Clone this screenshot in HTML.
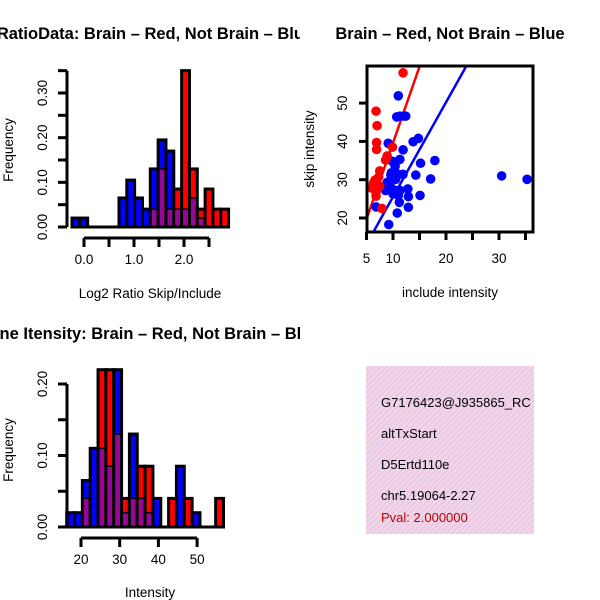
<!DOCTYPE html>
<html><head><meta charset="utf-8"><style>
html,body{margin:0;padding:0;background:#fff;}
svg{display:block;font-family:"Liberation Sans",sans-serif;}
</style></head><body>
<svg id="c" width="600" height="600" viewBox="0 0 600 600">
<defs>
<clipPath id="clipL"><rect x="0" y="0" width="300" height="600"/></clipPath>
<clipPath id="clipSc"><rect x="367" y="66" width="166" height="166"/></clipPath>
<clipPath id="clipTxt"><rect x="366" y="366" width="168" height="168"/></clipPath>
<pattern id="hatch" width="4" height="4" patternUnits="userSpaceOnUse" patternTransform="rotate(45)">
<rect width="4" height="4" fill="#a000a0"/><rect width="1.3" height="4" fill="#7a1a7a"/></pattern>
<pattern id="pink" width="4" height="4" patternUnits="userSpaceOnUse" patternTransform="rotate(45)">
<rect width="4" height="4" fill="#f3d3ef"/><rect width="1.2" height="4" fill="#e2c9d2"/></pattern>
</defs>
<g id="p1" clip-path="url(#clipL)"></g>
<g id="p3" clip-path="url(#clipL)"></g>
<g id="p2"></g>
<g clip-path="url(#clipTxt)">
<rect x="366" y="366" width="168" height="168" fill="url(#pink)"/>
<text x="381" y="407" font-size="13">G7176423@J935865_RC</text>
<text x="381" y="438" font-size="13">altTxStart</text>
<text x="381" y="469" font-size="13">D5Ertd110e</text>
<text x="381" y="500" font-size="13">chr5.19064-2.27</text>
<text x="381" y="522" font-size="13" fill="#c00000">Pval: 2.000000</text>
</g>
</svg>
<script>
// ---- Ratio histogram data ----
const ratioBinStart = -0.24;
const ratioBinWidth = 0.1566;
const ratioBlue = [0.02,0.02,0,0,0,0,0.065,0.105,0.065,0.04,0.13,0.195,0.17,0.04,0.04,0.065,0.02,0,0,0];
const ratioRed  = [0,0,0,0,0,0,0,0,0,0,0.04,0.13,0.04,0.085,0.35,0.13,0.04,0.085,0.04,0.04];
const ratioXTicks = [0,0.5,1,1.5,2,2.5];
const ratioXLabels = ["0.0","","1.0","","2.0",""];
const ratioYTicks = [0,0.05,0.1,0.15,0.2,0.25,0.3,0.35];
const ratioYLabels = ["0.00","","0.10","","0.20","","0.30",""];
// ---- Intensity histogram data ----
const intBinStart = 16.3;
const intBinWidth = 2.026;
const intBlue = [0.02,0.02,0.065,0.11,0.11,0.085,0.22,0.02,0.13,0.04,0.02,0.04,0,0,0.085,0,0.02,0,0,0];
const intRed  = [0,0,0.04,0,0.22,0.22,0.13,0.04,0.04,0.085,0.085,0,0,0.04,0,0.04,0,0,0,0.04];
const intXTicks = [20,30,40,50];
const intXLabels = ["20","30","40","50"];
const intYTicks = [0,0.05,0.1,0.15,0.2];
const intYLabels = ["0.00","","0.10","","0.20"];
// ---- Scatter data ----
const redX = [11.9,6.8,7.0,6.9,6.9,9.9,8.9,8.6,7.5,6.6,6.0,7.0,6.8,7.9,6.3,7.3,7.5,6.8];
const redY = [57.9,47.9,44.1,39.7,37.9,38.5,36.2,35.1,32.3,29.9,27.8,27.8,25.7,22.5,29.0,30.7,28.3,26.8];
const blueX = [35.3,30.5,11.0,10.7,11.3,12.0,12.4,9.1,14.8,13.8,11.9,17.9,15.2,11.3,9.9,10.4,14.3,17.1,9.7,11.0,11.9,10.5,8.9,9.6,8.6,10.5,12.8,10.0,11.0,12.9,15.1,11.2,12.9,10.8,9.2,6.8,11.3,9.6];
const blueY = [30.1,31.0,51.9,46.4,46.6,46.6,46.6,39.5,40.8,39.9,37.8,35.0,34.3,35.3,34.8,33.5,31.2,30.2,31.8,31.4,31.4,30.1,29.3,28.0,27.2,27.2,27.6,26.3,25.9,25.6,25.9,24.1,22.8,21.3,18.3,22.9,27.2,31.2];
const redFit = [-0.2,3.98];
const blueFit = [0.8,2.47];
const scXTicks = [5,10,15,20,25,30,35];
const scXLabels = ["5","10","","20","","30",""];
const scYTicks = [20,30,40,50];
const scYLabels = ["20","30","40","50"];

const NS="http://www.w3.org/2000/svg";
function mk(parent,tag,attrs,text){const e=document.createElementNS(NS,tag);for(const k in attrs)e.setAttribute(k,attrs[k]);if(text!==undefined)e.textContent=text;parent.appendChild(e);return e;}

function hist(g,binStart,binW,blue,red,sx,sy,baseY){
  const x0=sx(binStart), x1=sx(binStart+binW*blue.length);
  let l=mk(g,'line',{x1:x0,x2:x1,y1:baseY,y2:baseY,stroke:'#000','stroke-width':3});
  
  
  for(let i=0;i<blue.length;i++){
    const a=sx(binStart+i*binW), b=sx(binStart+(i+1)*binW);
    const mx=Math.max(blue[i],red[i]), mn=Math.min(blue[i],red[i]);
    if(mx<=0) continue;
    const col = blue[i]>=red[i]?'#0000ff':'#ff0000';
    const r=mk(g,'rect',{x:a,y:sy(mx),width:b-a,height:baseY-sy(mx),fill:col,stroke:'#000','stroke-width':3});
    
    
    if(mn>0){
      const p=mk(g,'rect',{x:a+1.5,y:sy(mn),width:b-a-3,height:baseY-sy(mn)-1.5,fill:'url(#hatch)'});
      
      
      mk(g,'line',{x1:a,x2:b,y1:sy(mn),y2:sy(mn),stroke:'#000','stroke-width':1.5});
    }
  }
}
function yaxis(g,x,ticks,labels,sy){
  const a=mk(g,'line',{x1:x,x2:x,y1:sy(ticks[0]),y2:sy(ticks[ticks.length-1]),stroke:'#000','stroke-width':3});
  
  
  ticks.forEach((t,i)=>{
    mk(g,'line',{x1:x-9,x2:x,y1:sy(t),y2:sy(t),stroke:'#000','stroke-width':3});
    if(labels[i]){const tx=mk(g,'text',{x:0,y:0,'font-size':13.5,'text-anchor':'middle',transform:`translate(${x-20},${sy(t)}) rotate(-90)`},labels[i]);
      
      }
  });
}
function xaxis(g,y,ticks,labels,sx){
  const a=mk(g,'line',{x1:sx(ticks[0]),x2:sx(ticks[ticks.length-1]),y1:y,y2:y,stroke:'#000','stroke-width':3});
  
  
  ticks.forEach((t,i)=>{
    mk(g,'line',{x1:sx(t),x2:sx(t),y1:y,y2:y+9,stroke:'#000','stroke-width':3});
    if(labels[i]){const tx=mk(g,'text',{x:sx(t),y:y+26,'font-size':13.5,'text-anchor':'middle'},labels[i]);
      
      }
  });
}
function label(g,x,y,txt,name,opts){const t=mk(g,'text',Object.assign({x:x,y:y,'font-size':13.5,'text-anchor':'middle'},opts||{}),txt);
  
  return t;}

// Panel 1
{const g=document.getElementById('p1');
 const sx=v=>84+v*50, sy=v=>227-v*446.7;
 hist(g,ratioBinStart,ratioBinWidth,ratioBlue,ratioRed,sx,sy,227);
 yaxis(g,67,ratioYTicks,ratioYLabels,sy);
 xaxis(g,238,ratioXTicks,ratioXLabels,sx);
 label(g,133,39,"Log2 RatioData: Brain – Red, Not Brain – Blue","ratio-chart-title",{'font-size':16.5,'font-weight':'bold'});
 label(g,150,298,"Log2 Ratio Skip/Include","ratio-x-axis-title");
 label(g,0,0,"Frequency","ratio-y-axis-title",{transform:'translate(13,150) rotate(-90)'});
}
// Panel 3
{const g=document.getElementById('p3');
 const sx=v=>81+(v-20)*3.87, sy=v=>527-v*715;
 hist(g,intBinStart,intBinWidth,intBlue,intRed,sx,sy,527);
 yaxis(g,67,intYTicks,intYLabels,sy);
 xaxis(g,538,intXTicks,intXLabels,sx);
 label(g,149,339,"Gene Itensity: Brain – Red, Not Brain – Blue","intensity-chart-title",{'font-size':16.5,'font-weight':'bold'});
 label(g,150,597,"Intensity","intensity-x-axis-title");
 label(g,0,0,"Frequency","intensity-y-axis-title",{transform:'translate(13,450) rotate(-90)'});
}
// Panel 2 scatter
{const g=document.getElementById('p2');
 const sx=v=>366.5+(v-5)*5.3, sy=v=>218-(v-20)*3.83;
 const pts=mk(g,'g',{'clip-path':'url(#clipSc)'});
 const xa=4,xb=40;
 const rl=mk(pts,'line',{x1:sx(xa),y1:sy(redFit[0]+redFit[1]*xa),x2:sx(xb),y2:sy(redFit[0]+redFit[1]*xb),stroke:'#ff0000','stroke-width':2.5});
 
 
 const bl=mk(pts,'line',{x1:sx(xa),y1:sy(blueFit[0]+blueFit[1]*xa),x2:sx(xb),y2:sy(blueFit[0]+blueFit[1]*xb),stroke:'#0000ff','stroke-width':2.5});
 
 
 blueX.forEach((x,i)=>{const c=mk(pts,'circle',{cx:sx(x),cy:sy(blueY[i]),r:4.8,fill:'#0000ff'});
   
   });
 redX.forEach((x,i)=>{const c=mk(pts,'circle',{cx:sx(x),cy:sy(redY[i]),r:4.8,fill:'#ff0000'});
   
   });
 const fr=mk(g,'rect',{x:367,y:66,width:166,height:166,fill:'none',stroke:'#000','stroke-width':3});
 
 
 scXTicks.forEach((t,i)=>{mk(g,'line',{x1:sx(t),x2:sx(t),y1:232,y2:240,stroke:'#000','stroke-width':3});
   if(scXLabels[i]){const tx=mk(g,'text',{x:sx(t),y:263,'font-size':13.5,'text-anchor':'middle'},scXLabels[i]);
   
   }});
 scYTicks.forEach((t,i)=>{mk(g,'line',{x1:359,x2:367,y1:sy(t),y2:sy(t),stroke:'#000','stroke-width':3});
   const tx=mk(g,'text',{x:0,y:0,'font-size':13.5,'text-anchor':'middle',transform:`translate(347,${sy(t)}) rotate(-90)`},scYLabels[i]);
   
   });
 label(g,450,39,"Brain – Red, Not Brain – Blue","scatter-title",{'font-size':16.5,'font-weight':'bold'});
 label(g,450,297,"include intensity","scatter-x-axis-title");
 label(g,0,0,"skip intensity","scatter-y-axis-title",{transform:'translate(314,149) rotate(-90)'});
}
</script>
</body></html>
